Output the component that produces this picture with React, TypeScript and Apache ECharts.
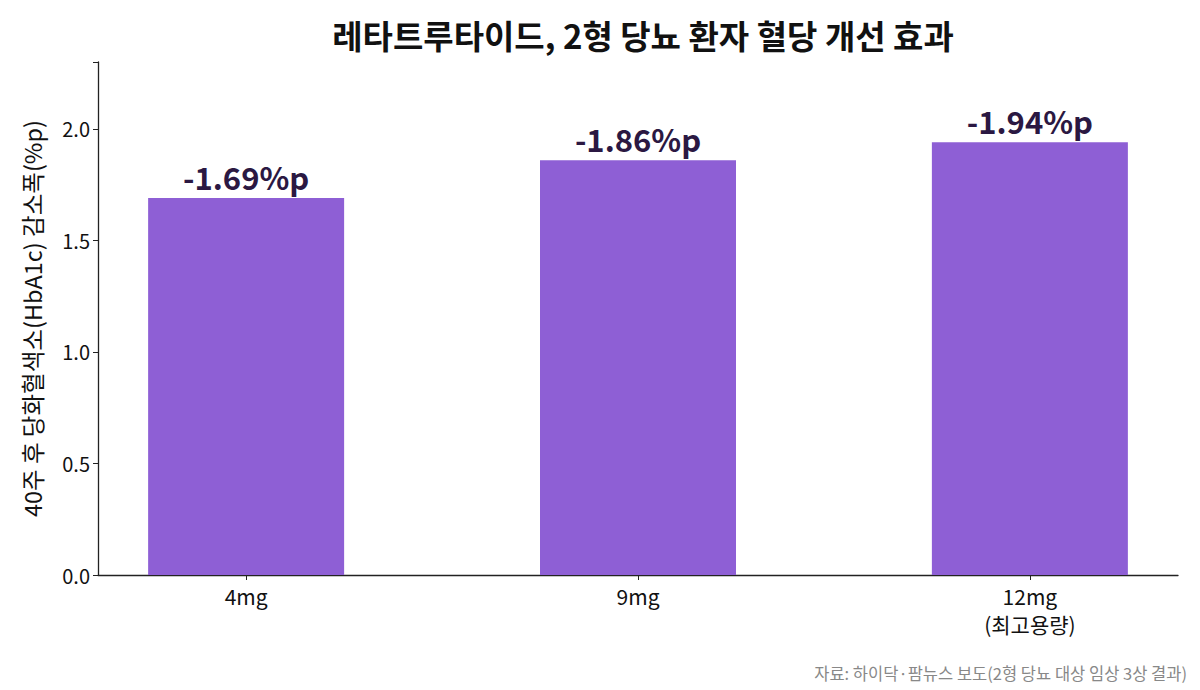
import React, { useEffect, useRef } from "react";
import * as echarts from "echarts";

const categories = ["4mg", "9mg", "12mg\n(최고용량)"];
const reductions = [1.69, 1.86, 1.94];
const valueLabels = ["-1.69%p", "-1.86%p", "-1.94%p"];
const yTicks = [0, 0.5, 1.0, 1.5, 2.0];
const titleText = "레타트루타이드, 2형 당뇨 환자 혈당 개선 효과";
const yAxisName = "40주 후 당화혈색소(HbA1c) 감소폭(%p)";
const sourceText = "자료: 하이닥·팜뉴스 보도(2형 당뇨 대상 임상 3상 결과)";

const FONT = "'Noto Sans CJK KR', 'Noto Sans', sans-serif";

export default function App() {
  const ref = useRef<HTMLDivElement>(null);
  useEffect(() => {
    document.body.style.margin = "0";
    const chart = echarts.init(ref.current!, undefined, { renderer: "svg" });
    const positions = categories.map((_, i) => i);
    chart.setOption({
      animation: false,
      backgroundColor: "#ffffff",
      textStyle: { fontFamily: FONT },
      title: {
        text: titleText,
        left: 638,
        textAlign: "center",
        top: 13,
        textStyle: { fontFamily: FONT, fontSize: 33, fontWeight: "bold", color: "#111111" },
      },
      grid: { left: 98, right: 22, top: 62, bottom: 115, containLabel: false },
      xAxis: {
        type: "value",
        min: -0.378,
        max: 2.378,
        axisLine: { show: true, onZero: false, lineStyle: { color: "#222222", width: 1.3 } },
        axisTick: { show: true, customValues: positions, length: 5, lineStyle: { color: "#222222" } },
        axisLabel: {
          show: true,
          customValues: positions,
          formatter: (v: number) => categories[Math.round(v)] ?? "",
          fontFamily: FONT,
          fontSize: 21,
          color: "#111111",
          lineHeight: 28,
          margin: 7,
        },
        splitLine: { show: false },
      },
      yAxis: {
        type: "value",
        min: 0,
        max: 2.3,
        interval: 0.5,
        name: yAxisName,
        nameLocation: "middle",
        nameGap: 54,
        nameTextStyle: { fontFamily: FONT, fontSize: 23.5, color: "#111111" },
        axisLine: { show: true, onZero: false, lineStyle: { color: "#222222", width: 1.3 } },
        axisTick: { show: true, length: 5, lineStyle: { color: "#222222" } },
        axisLabel: {
          fontFamily: FONT,
          fontSize: 20,
          color: "#111111",
          margin: 8,
          formatter: (v: number) => (yTicks.includes(v) ? v.toFixed(1) : ""),
        },
        splitLine: { show: false },
      },
      series: [
        {
          type: "bar",
          barWidth: 196,
          data: reductions.map((v, i) => [i, v]),
          itemStyle: { color: "#8E5FD5" },
          label: {
            show: true,
            position: "top",
            distance: 6,
            formatter: (p: any) => valueLabels[p.dataIndex],
            fontFamily: FONT,
            fontSize: 31,
            fontWeight: "bold",
            color: "#2B1842",
          },
        },
      ],
      graphic: [
        {
          type: "text",
          right: 13,
          bottom: 9,
          style: { text: sourceText, fontFamily: FONT, fontSize: 16.5, fill: "#888888" },
        },
      ],
    });
    return () => chart.dispose();
  }, []);
  return <div ref={ref} style={{ width: 1200, height: 690 }} />;
}
